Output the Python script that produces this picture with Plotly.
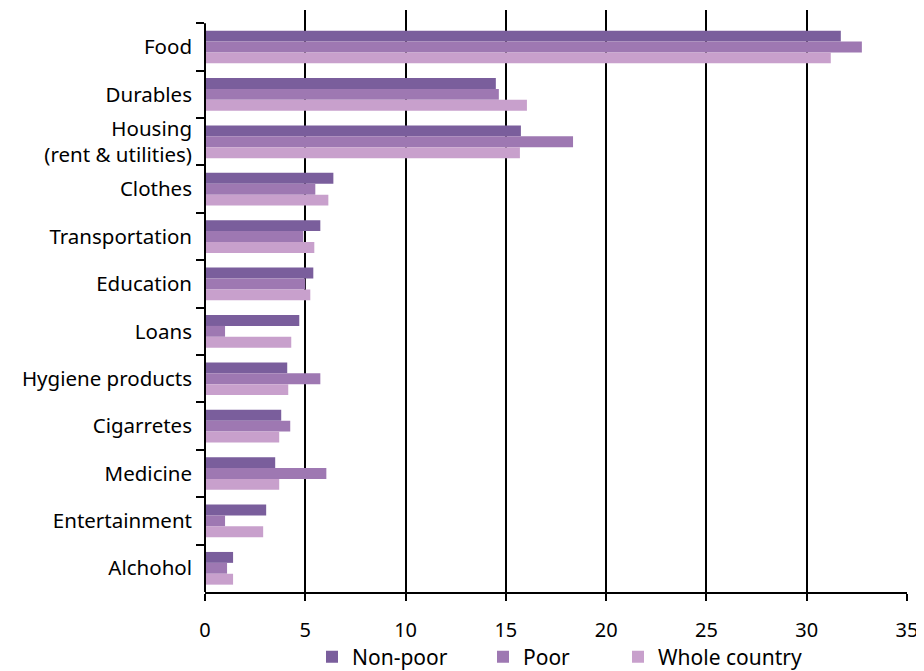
import plotly.graph_objects as go

categories = ["Food", "Durables", "Housing<br>(rent & utilities)", "Clothes", "Transportation",
              "Education", "Loans", "Hygiene products", "Cigarretes", "Medicine",
              "Entertainment", "Alchohol"]
non_poor = [31.7, 14.5, 15.75, 6.4, 5.75, 5.4, 4.7, 4.1, 3.8, 3.5, 3.05, 1.4]
poor = [32.75, 14.65, 18.35, 5.5, 4.9, 5.0, 1.0, 5.75, 4.25, 6.05, 1.0, 1.1]
whole = [31.2, 16.05, 15.7, 6.15, 5.45, 5.25, 4.3, 4.15, 3.7, 3.7, 2.9, 1.4]

series = [("Non-poor", non_poor, "#7A5E9C", "legend"),
          ("Poor", poor, "#9E78B2", "legend2"),
          ("Whole country", whole, "#C8A0CC", "legend3")]

fig = go.Figure()
for name, vals, col, lg in series:
    fig.add_trace(go.Bar(y=categories, x=vals, name=name, orientation="h",
                         legend=lg,
                         marker=dict(color=col, line=dict(width=0))))

n = len(categories)
font_family = "Noto Sans, Open Sans, sans-serif"
# page body has an 8px default margin; size the figure to fit the window
W, H = 916, 663
L, R, T, B = 197, 17, 2, 79
plot_w = W - L - R
plot_h = H - T - B
top_pad = 13.3 / ((591.7 - 23.3) / n)

leg_y = -(649 - (H - B)) / plot_h
def leg(px):
    return dict(orientation="h", x=(px - L) / plot_w, xanchor="left",
                y=leg_y, yanchor="middle", font=dict(size=21),
                bgcolor="rgba(0,0,0,0)")

fig.update_layout(
    width=W, height=H,
    margin=dict(l=L, r=R, t=T, b=B, autoexpand=False),
    paper_bgcolor="white", plot_bgcolor="white",
    barmode="group", bargap=0.31, bargroupgap=0,
    font=dict(family=font_family, size=20, color="black"),
    showlegend=True,
    legend=leg(304), legend2=leg(475), legend3=leg(610),
    shapes=[dict(type="line", xref="paper", yref="y", x0=0, x1=0,
                 y0=-0.5, y1=n - 0.5, line=dict(color="black", width=2))],
)
fig.update_xaxes(range=[0, 35], dtick=5, tick0=0, showgrid=True, gridcolor="black",
                 gridwidth=2, zeroline=False, showline=True, linecolor="black",
                 linewidth=2, ticks="outside", ticklen=7, tickwidth=2,
                 tickcolor="black", tickfont=dict(size=20), automargin=False,
                 ticklabelstandoff=12)
fig.update_yaxes(range=[n - 0.5, -0.5 - top_pad], showline=False,
                 ticks="outside", ticklen=8, tickwidth=2, tickcolor="black",
                 tickson="boundaries", showgrid=False, tickfont=dict(size=20.5),
                 ticklabelstandoff=12, automargin=False)

fig.write_html("out.html")
